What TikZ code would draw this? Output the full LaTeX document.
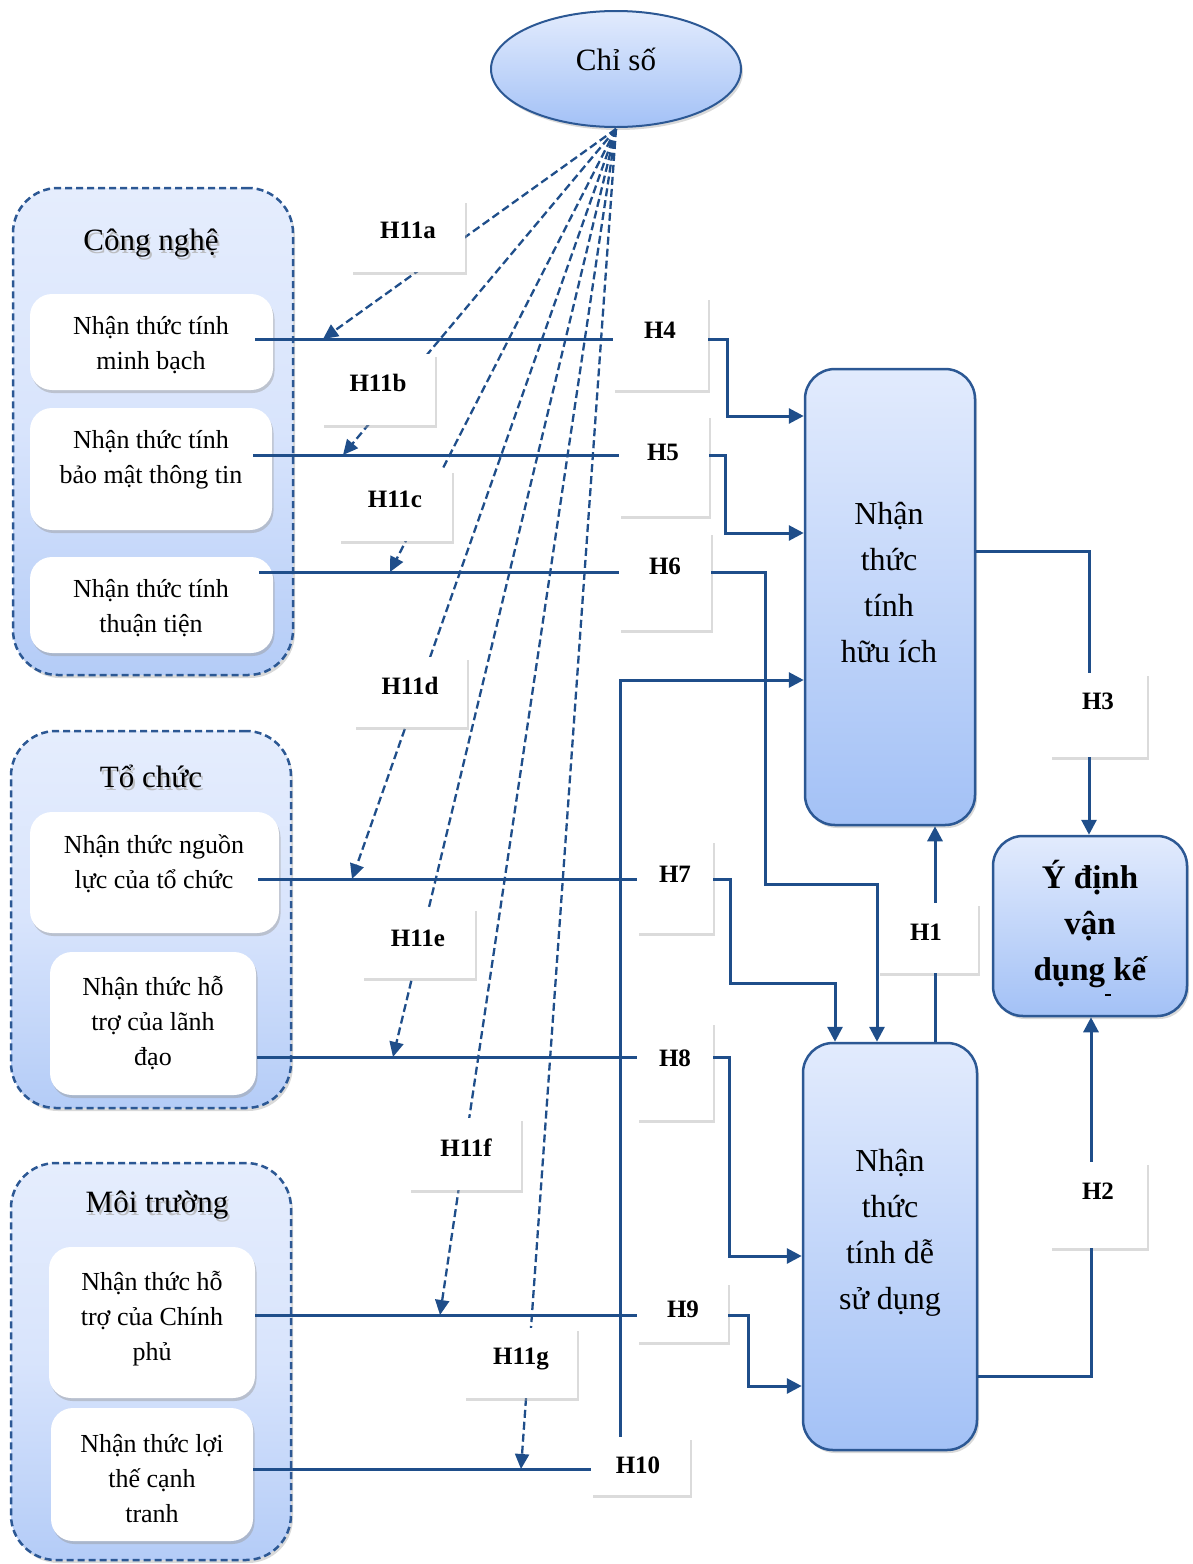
\documentclass[tikz,border=0pt]{standalone}
\usepackage{fontspec}
\setmainfont{Liberation Serif}
\usetikzlibrary{arrows.meta,shapes.geometric,shadows}
\definecolor{lc}{RGB}{31,78,138}
\definecolor{bc}{RGB}{44,88,148}
\definecolor{mtop}{RGB}{226,235,253}
\definecolor{mbot}{RGB}{163,193,246}
\definecolor{gtop}{RGB}{229,237,253}
\definecolor{gmid}{RGB}{216,228,252}
\definecolor{gbot}{RGB}{180,204,247}
\tikzset{
  grp/.style={draw=bc, line width=2.5pt, dash pattern=on 7pt off 4pt, rounded corners=45pt,
    top color=gtop, bottom color=gbot, middle color=gmid, inner sep=0pt,
    drop shadow={shadow xshift=2pt,shadow yshift=-3pt,opacity=0.3,fill=gray}},
  inbox/.style={fill=white, rounded corners=22pt, inner sep=0pt,
    drop shadow={shadow xshift=1.5pt,shadow yshift=-3pt,opacity=0.45,fill=gray!80}},
  mainbox/.style={draw=bc, line width=2.5pt, rounded corners=30pt, top color=mtop, bottom color=mbot,
    inner sep=0pt, drop shadow={shadow xshift=2pt,shadow yshift=-3pt,opacity=0.3,fill=gray}},
  lab/.style={fill=white, inner sep=0pt,
    drop shadow={shadow xshift=2pt,shadow yshift=-3pt,opacity=0.4,fill=gray!70}},
  itxt/.style={align=center, inner sep=0pt, font=\fontsize{26}{35}\selectfont},
  gtxt/.style={inner sep=0pt, font=\fontsize{31}{36}\selectfont},
  mtxt/.style={align=center, inner sep=0pt, font=\fontsize{32}{46}\selectfont},
  htxt/.style={inner sep=0pt, font=\fontsize{25}{30}\selectfont\bfseries},
  conn/.style={draw=lc, line width=3pt},
  arr/.style={conn, -{Triangle[length=15pt,width=15pt]}},
  dsh/.style={draw=lc, line width=2.3pt, dash pattern=on 8pt off 4pt, -{Triangle[length=15pt,width=14pt]}}
}
\begin{document}
\begin{tikzpicture}[x=1pt,y=-1pt]
\useasboundingbox (0,0) rectangle (1193,1564);

% ---------- groups ----------
\node[grp, minimum width=280pt, minimum height=487pt] (g1) at (153,431.5) {};
\node[grp, minimum width=280pt, minimum height=377pt] (g2) at (151,919.5) {};
\node[grp, minimum width=280pt, minimum height=397pt] (g3) at (151,1361.5) {};

\node[gtxt, text=gray!60, opacity=0.8] (g1s) at (153,246) {Công nghệ};
\node[gtxt] (g1t) at (151,243) {Công nghệ};
\node[gtxt, text=gray!60, opacity=0.8] (g2s) at (153,779) {Tổ chức};
\node[gtxt] (g2t) at (151,776) {Tổ chức};
\node[gtxt, text=gray!60, opacity=0.8] (g3s) at (159,1208) {Môi trường};
\node[gtxt] (g3t) at (157,1205) {Môi trường};

% ---------- inner boxes ----------
\node[inbox, minimum width=243pt, minimum height=96pt] (a1) at (151.5,342) {};
\node[inbox, minimum width=242pt, minimum height=122pt] (a2) at (151,469) {};
\node[inbox, minimum width=243pt, minimum height=96pt] (a3) at (151.5,605) {};
\node[inbox, minimum width=249pt, minimum height=121pt] (b1) at (154.5,872.5) {};
\node[inbox, minimum width=206pt, minimum height=143pt] (b2) at (153,1023.5) {};
\node[inbox, minimum width=206pt, minimum height=151pt] (c1) at (152,1322.5) {};
\node[inbox, minimum width=202pt, minimum height=133pt] (c2) at (152,1474.5) {};

% ---------- main boxes ----------
\node[mainbox, minimum width=170pt, minimum height=456pt] (hi) at (890,597) {};
\node[mainbox, minimum width=174pt, minimum height=407pt] (ds) at (890,1246.5) {};
\node[mainbox, minimum width=194pt, minimum height=180pt] (yd) at (1090,926) {};
\node[ellipse, draw=bc, line width=2pt, top color=mtop, bottom color=mbot,
      minimum width=250pt, minimum height=116pt, inner sep=0pt,
      drop shadow={shadow xshift=2pt,shadow yshift=-3pt,opacity=0.3,fill=gray}] (cs) at (616,69) {};

% ---------- coordinates ----------
\coordinate (apex) at (616,129);
\coordinate (r1) at (255,339);
\coordinate (r2) at (253,455);
\coordinate (r3) at (259,572);
\coordinate (r4) at (258,879);
\coordinate (r5) at (257,1057);
\coordinate (r6) at (255,1315);
\coordinate (r7) at (253,1469);
\coordinate (t4) at (727,416);
\coordinate (t5) at (725,533);
\coordinate (t6) at (765,884);
\coordinate (t6b) at (877,884);
\coordinate (t7) at (730,983);
\coordinate (t7b) at (835,983);
\coordinate (t8) at (729,1256);
\coordinate (t9) at (748,1386);
\coordinate (t10) at (620,680);
\coordinate (t3) at (1089,551);
\coordinate (t2) at (1091,1376);
\coordinate (t1) at (935,903);
\coordinate (ea) at (323,339);
\coordinate (eb) at (343,455);
\coordinate (ec) at (390,572);
\coordinate (ed) at (352,879);
\coordinate (ee) at (393,1057);
\coordinate (ef) at (440,1315);
\coordinate (eg) at (521,1469);

% ---------- dashed connectors ----------
\draw[dsh] (apex) -- (ea);
\draw[dsh] (apex) -- (eb);
\draw[dsh] (apex) -- (ec);
\draw[dsh] (apex) -- (ed);
\draw[dsh] (apex) -- (ee);
\draw[dsh] (apex) -- (ef);
\draw[dsh] (apex) -- (eg);

% ---------- label boxes ----------
\node[lab, minimum width=114pt, minimum height=72pt] (h11a) at (408,236) {};
\node[lab, minimum width=113pt, minimum height=71pt] (h11b) at (378.5,389.5) {};
\node[lab, minimum width=113pt, minimum height=71pt] (h11c) at (395.5,505.5) {};
\node[lab, minimum width=113pt, minimum height=70pt] (h11d) at (410.5,692) {};
\node[lab, minimum width=113pt, minimum height=70pt] (h11e) at (418.5,943) {};
\node[lab, minimum width=112pt, minimum height=72pt] (h11f) at (465,1154) {};
\node[lab, minimum width=113pt, minimum height=70pt] (h11g) at (520.5,1363) {};
\node[lab, minimum width=95pt, minimum height=93pt] (h4) at (660.5,343.5) {};
\node[lab, minimum width=90pt, minimum height=101pt] (h5) at (664,465.5) {};
\node[lab, minimum width=92pt, minimum height=98pt] (h6) at (665,581) {};
\node[lab, minimum width=76pt, minimum height=93pt] (h7) at (675,886.5) {};
\node[lab, minimum width=76pt, minimum height=98pt] (h8) at (675,1071) {};
\node[lab, minimum width=91pt, minimum height=60pt] (h9) at (682.5,1312) {};
\node[lab, minimum width=99pt, minimum height=58pt] (h10) at (640.5,1466) {};
\node[lab, minimum width=100pt, minimum height=70pt] (h1) at (928,938) {};
\node[lab, minimum width=97pt, minimum height=84pt] (h3) at (1098.5,715) {};
\node[lab, minimum width=97pt, minimum height=86pt] (h2) at (1098.5,1205) {};

% ---------- solid connectors ----------
\draw[conn] (r1) -- (r1 -| h4.west);
\draw[conn] (r2) -- (r2 -| h5.west);
\draw[conn] (r3) -- (r3 -| h6.west);
\draw[conn] (r4) -- (r4 -| h7.west);
\draw[conn] (r5) -- (r5 -| h8.west);
\draw[conn] (r6) -- (r6 -| h9.west);
\draw[conn] (r7) -- (r7 -| h10.west);

\draw[arr] (h4.east |- r1) -| (t4) -- (t4 -| hi.west);
\draw[arr] (h5.east |- r2) -| (t5) -- (t5 -| hi.west);
\draw[arr] (h6.east |- r3) -| (t6) -- (t6b) -- (t6b |- ds.north);
\draw[arr] (h7.east |- r4) -| (t7) -- (t7b) -- (t7b |- ds.north);
\draw[arr] (h8.east |- r5) -| (t8) -- (t8 -| ds.west);
\draw[arr] (h9.east |- r6) -| (t9) -- (t9 -| ds.west);
\draw[arr] (t10 |- h10.north) -- (t10) -- (t10 -| hi.west);

\draw[conn] (t3 -| hi.east) -- (t3) -- (t3 |- h3.north);
\draw[arr] (t3 |- h3.south) -- (t3 |- yd.north);
\draw[conn] (t2 -| ds.east) -- (t2) -- (t2 |- h2.south);
\draw[arr] (t2 |- h2.north) -- (t2 |- yd.south);
\draw[conn] (t1 |- ds.north) -- (t1 |- h1.south);
\draw[arr] (t1 |- h1.north) -- (t1 |- hi.south);

% ---------- texts ----------
\node[gtxt] (cst) at (616,59) {Chỉ số};
\node[itxt] (a1t) at (151,345) {Nhận thức tính\\minh bạch};
\node[itxt] (a2t) at (151,460) {Nhận thức tính\\bảo mật thông tin};
\node[itxt] (a3t) at (151,608) {Nhận thức tính\\thuận tiện};
\node[itxt] (b1t) at (154,864) {Nhận thức nguồn\\lực của tổ chức};
\node[itxt] (b2t) at (153,1023) {Nhận thức hỗ\\trợ của lãnh\\đạo};
\node[itxt] (c1t) at (152,1319) {Nhận thức hỗ\\trợ của Chính\\phủ};
\node[itxt] (c2t) at (152,1479) {Nhận thức lợi\\thế cạnh\\tranh};
\node[mtxt] (hit) at (889,583) {Nhận\\thức\\tính\\hữu ích};
\node[mtxt] (dst) at (890,1233) {Nhận\\thức\\tính dễ\\sử dụng};
\node[mtxt, font=\fontsize{33}{46}\selectfont\bfseries] (ydt) at (1090,924) {Ý định\\vận\\dụng kế};
\draw[line width=1.5pt] (1105,995) -- (1111,995);

\node[htxt] (h11at) at (408,230) {H11a};
\node[htxt] (h11bt) at (378,383) {H11b};
\node[htxt] (h11ct) at (395,499) {H11c};
\node[htxt] (h11dt) at (410,686) {H11d};
\node[htxt] (h11et) at (418,938) {H11e};
\node[htxt] (h11ft) at (466,1148) {H11f};
\node[htxt] (h11gt) at (521,1359) {H11g};
\node[htxt] (h4t) at (660,330) {H4};
\node[htxt] (h5t) at (663,452) {H5};
\node[htxt] (h6t) at (665,566) {H6};
\node[htxt] (h7t) at (675,874) {H7};
\node[htxt] (h8t) at (675,1058) {H8};
\node[htxt] (h9t) at (683,1309) {H9};
\node[htxt] (h10t) at (638,1465) {H10};
\node[htxt] (h1t) at (926,932) {H1};
\node[htxt] (h3t) at (1098,701) {H3};
\node[htxt] (h2t) at (1098,1191) {H2};
\end{tikzpicture}
\end{document}
